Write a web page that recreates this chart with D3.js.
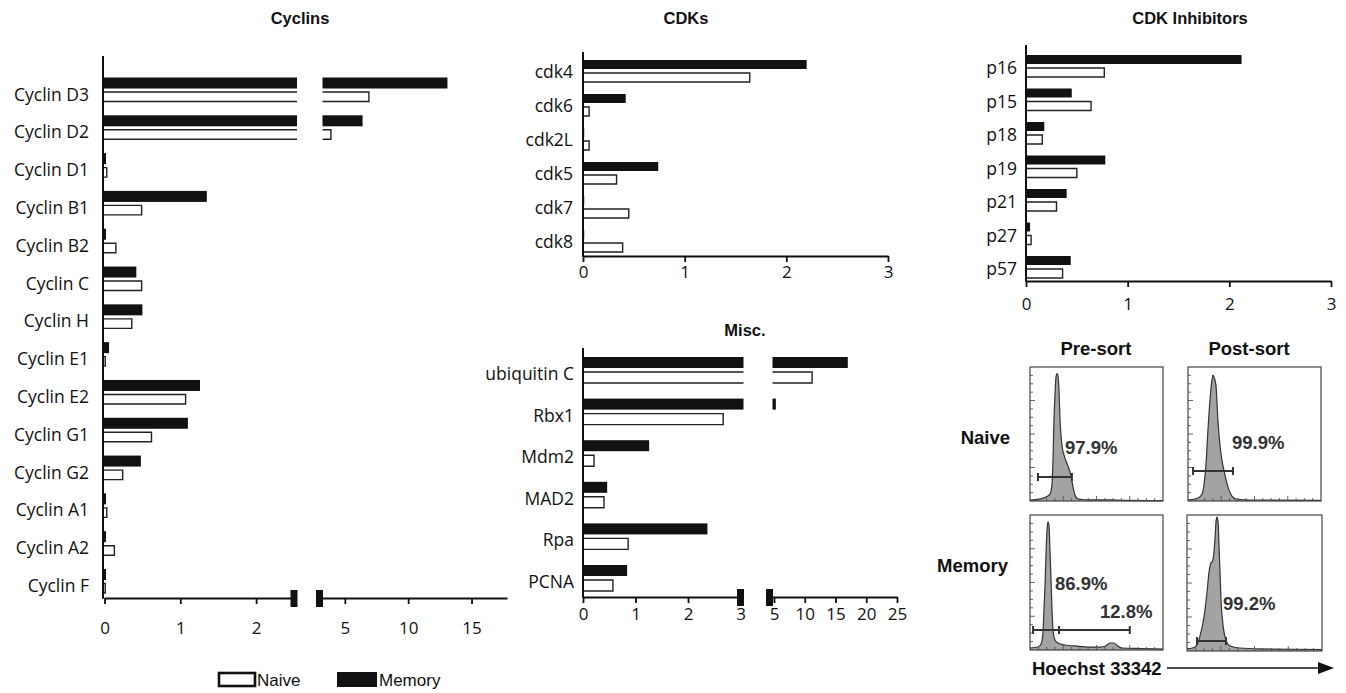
<!DOCTYPE html>
<html><head><meta charset="utf-8">
<script src="https://cdn.jsdelivr.net/npm/d3@7"></script>
<style>body{margin:0;background:#fff}svg{display:block}</style>
</head><body>
<svg id="c" width="1346" height="693"></svg>
<script>
// ---------------- DATA ----------------
const cyclinCats   = ["Cyclin D3","Cyclin D2","Cyclin D1","Cyclin B1","Cyclin B2","Cyclin C","Cyclin H","Cyclin E1","Cyclin E2","Cyclin G1","Cyclin G2","Cyclin A1","Cyclin A2","Cyclin F"];
const cyclinNaive  = [6.9, 3.9, 0.03, 0.49, 0.15, 0.49, 0.36, 0.01, 1.07, 0.62, 0.24, 0.03, 0.13, 0.01];
const cyclinMemory = [13.1, 6.4, 0.02, 1.35, 0.02, 0.42, 0.50, 0.06, 1.26, 1.10, 0.48, 0.02, 0.02, 0.02];
const cyclinTicksL = [0, 1, 2];
const cyclinTicksR = [5, 10, 15];

const cdkCats   = ["cdk4","cdk6","cdk2L","cdk5","cdk7","cdk8"];
const cdkNaive  = [1.64, 0.06, 0.06, 0.33, 0.45, 0.39];
const cdkMemory = [2.20, 0.42, 0.01, 0.74, 0.01, 0.01];
const cdkTicks  = [0, 1, 2, 3];

const inhCats   = ["p16","p15","p18","p19","p21","p27","p57"];
const inhNaive  = [0.77, 0.64, 0.16, 0.50, 0.30, 0.05, 0.36];
const inhMemory = [2.12, 0.45, 0.18, 0.78, 0.40, 0.04, 0.44];
const inhTicks  = [0, 1, 2, 3];

const miscCats   = ["ubiquitin C","Rbx1","Mdm2","MAD2","Rpa","PCNA"];
const miscNaive  = [11.2, 2.67, 0.21, 0.40, 0.86, 0.57];
const miscMemory = [17.0, 5.3, 1.26, 0.46, 2.37, 0.84];
const miscTicksL = [0, 1, 2, 3];
const miscTicksR = [5, 10, 15, 20, 25];

const legendLabels = ["Naive", "Memory"];

// flow histograms: [channel %, count %]
const histNaivePre = [[0,0.7],[7.5,1.5],[12,3],[15,5],[16.5,12],[17.3,31],[18,60],[18.8,79],[19.5,92],[20.3,95],[21,93.5],[21.8,83],[22.6,60],[24,42],[26.3,32],[28.6,26],[30.8,19],[32.3,10.5],[33.8,4.5],[36,1.5],[45,0.8],[60,0.8],[71,0.5],[100,0.3]];
const histNaivePost = [[0,0.7],[7.5,2.2],[10.5,5],[12,12],[13.5,27],[15,53],[16.5,75],[18,90],[18.8,94],[19.5,92.5],[21,86.5],[22.5,60],[24,42],[25.5,30.5],[27.8,19.5],[30,10.5],[33,3.7],[36,1.5],[46.6,0.7],[100,0.4]];
const histMemoryPre = [[0,1.5],[6,2.2],[8.3,4.4],[9.8,13.3],[10.5,30],[11.3,48],[12,70],[12.8,89],[13.5,95],[14.3,92],[15,74],[15.8,52],[16.5,31],[17.3,15],[18.8,7.4],[21,5.2],[26.3,3.7],[33.8,3],[45,2.2],[52.6,2.2],[57,3],[60,5.2],[63,5.2],[66,3],[69,1.5],[83,1.1],[100,0.7]];
const histMemoryPost = [[0,1.5],[6,3],[8,6],[9.6,11],[11.9,21],[13.3,30],[14.8,43],[16.3,58],[17.8,65],[18.5,65.5],[19.2,67],[20.7,82],[21.5,95],[22.2,98.5],[23,95],[23.7,78],[24.4,59.5],[25.2,37.5],[26.7,19],[28.9,8],[31.9,3.7],[39,2.2],[54,1.5],[100,1.1]];
const gatesNaivePre   = [{from:6, to:31.5, level:18, label:"97.9%"}];
const gatesNaivePost  = [{from:3.8, to:33.8, level:22.4, label:"99.9%"}];
const gatesMemoryPre  = [{from:2.3, to:21.8, level:14.8, label:"86.9%"},{from:21.8, to:75, level:14.8, label:"12.8%"}];
const gatesMemoryPost = [{from:7.4, to:28.9, level:7.4, label:"99.2%"}];

// ---------------- DRAW ----------------
const svg = d3.select("#c");
const LBL = "'Open Sans', 'Noto Sans', sans-serif";
const HEL = "'Liberation Sans', Arial, Helvetica, sans-serif";
const INK = "#111";

function brokenX(dl, rl, dr, rr){
  const l = d3.scaleLinear().domain(dl).range(rl);
  const r = dr ? d3.scaleLinear().domain(dr).range(rr) : null;
  return {l, r, brk: dl[1]};
}

function bar(g, sc, x0, v, top, bot, memory){
  const pieces = [];
  if (!sc.r || v <= sc.brk){
    pieces.push({a:x0, b:sc.l(v), openL:false, openR:false});
  } else {
    pieces.push({a:x0, b:sc.l(sc.brk)+3, openL:false, openR:true});
    pieces.push({a:sc.r(sc.r.domain()[0])+3, b:sc.r(v), openL:true, openR:false});
  }
  pieces.forEach(p=>{
    if (memory){
      g.append("rect").attr("x",p.a).attr("y",top).attr("width",Math.max(1.2,p.b-p.a)).attr("height",bot-top).attr("fill",INK);
    } else {
      g.append("rect").attr("x",p.a).attr("y",top).attr("width",Math.max(0.5,p.b-p.a)).attr("height",bot-top).attr("fill","#fff");
      let d;
      if (p.openR) d = `M${p.b},${top}H${p.a}V${bot}H${p.b}`;
      else if (p.openL) d = `M${p.a},${top}H${p.b}V${bot}H${p.a}`;
      else d = `M${p.a},${top}H${p.b}V${bot}H${p.a}Z`;
      g.append("path").attr("d",d).attr("fill","none").attr("stroke","#222").attr("stroke-width",1.4);
    }
  });
}

function panel(o){
  const g = svg.append("g");
  const y = d3.scalePoint().domain(o.cats).range(o.yRange);
  o.cats.forEach((c,i)=>{
    const cy = y(c);
    bar(g, o.x, o.axisX, o.memory[i], cy+o.mem[0], cy+o.mem[1], true);
    bar(g, o.x, o.axisX, o.naive[i], cy+o.nai[0], cy+o.nai[1], false);
    g.append("text").attr("x",o.labelX).attr("y",cy+o.labelDy)
      .attr("text-anchor","end").attr("dominant-baseline","central")
      .attr("font-family",LBL).attr("font-size",o.fs||17.5).attr("fill",INK).text(c);
  });
  g.append("line").attr("x1",o.axisX).attr("x2",o.axisX).attr("y1",o.yTop).attr("y2",o.axisY+0.8)
    .attr("stroke",INK).attr("stroke-width",2);
  const segs = [[o.x.l, o.ticksL]];
  if (o.x.r) segs.push([o.x.r, o.ticksR]);
  segs.forEach(([s,t])=>{
    const ax = d3.axisBottom(s).tickValues(t).tickFormat(d3.format("d")).tickSize(6).tickSizeOuter(0).tickPadding(o.tickPad);
    const ag = g.append("g").attr("transform",`translate(0,${o.axisY})`).call(ax);
    ag.select(".domain").attr("stroke",INK).attr("stroke-width",1.8);
    ag.selectAll(".tick line").attr("stroke",INK).attr("stroke-width",1.8);
    ag.selectAll(".tick text").attr("font-family",LBL).attr("font-size",17).attr("fill",INK);
  });
  if (o.x.r){
    [o.x.l(o.x.brk), o.x.r(o.x.r.domain()[0])].forEach(bx=>{
      g.append("rect").attr("x",bx-3.5).attr("y",o.axisY-8).attr("width",7).attr("height",17).attr("fill",INK);
    });
  }
  if (o.title){
    g.append("text").attr("x",o.title[1]).attr("y",o.title[2]).attr("text-anchor","middle")
      .attr("dominant-baseline","central").attr("font-family",HEL).attr("font-weight","bold")
      .attr("font-size",16.5).attr("fill",INK).text(o.title[0]);
  }
}

panel({cats:cyclinCats, naive:cyclinNaive, memory:cyclinMemory,
  x: brokenX([0,2.5],[104.5,294],[3,17.8],[319.5,507]),
  ticksL:cyclinTicksL, ticksR:cyclinTicksR, yRange:[89.5,581], mem:[-12,-1], nai:[2.5,12],
  axisX:103, axisY:598, yTop:56, labelX:89, labelDy:4, tickPad:18, title:["Cyclins",300,18]});

panel({cats:cdkCats, naive:cdkNaive, memory:cdkMemory,
  x: brokenX([0,3],[583,888]),
  ticksL:cdkTicks, yRange:[71,241], mem:[-11,-2], nai:[2,11],
  axisX:583, axisY:256, yTop:52, labelX:573, labelDy:0, tickPad:4, title:["CDKs",686,18]});

panel({cats:inhCats, naive:inhNaive, memory:inhMemory,
  x: brokenX([0,3],[1026,1331]),
  ticksL:inhTicks, yRange:[66,267], mem:[-11,-2], nai:[2,11],
  axisX:1026, axisY:281, yTop:45, labelX:1017, labelDy:1, tickPad:11, title:["CDK Inhibitors",1190,18]});

panel({cats:miscCats, naive:miscNaive, memory:miscMemory,
  x: brokenX([0,3],[583,740.5],[4.27,25],[769.5,897]),
  ticksL:miscTicksL, ticksR:miscTicksR, yRange:[370,578], mem:[-13,-2], nai:[2,13],
  axisX:583, axisY:597, yTop:348, labelX:574, labelDy:3, tickPad:5, title:["Misc.",745,330]});

// legend
const lg = svg.append("g");
lg.append("rect").attr("x",219).attr("y",673).attr("width",36).attr("height",13).attr("fill","#fff").attr("stroke",INK).attr("stroke-width",2.6);
lg.append("rect").attr("x",337).attr("y",672).attr("width",40).attr("height",15).attr("fill",INK);
lg.append("text").attr("x",257).attr("y",680).attr("dominant-baseline","central").attr("font-family",HEL).attr("font-size",17).attr("fill",INK).text(legendLabels[0]);
lg.append("text").attr("x",379).attr("y",680).attr("dominant-baseline","central").attr("font-family",HEL).attr("font-size",17).attr("fill",INK).text(legendLabels[1]);

// flow cytometry
function flow(x0, y0, w, h, data, gates){
  const g = svg.append("g");
  const sx = d3.scaleLinear().domain([0,100]).range([x0, x0+w]);
  const sy = d3.scaleLinear().domain([0,100]).range([y0+h, y0]);
  const area = d3.area().x(d=>sx(d[0])).y0(y0+h).y1(d=>sy(d[1])).curve(d3.curveMonotoneX);
  const line = d3.line().x(d=>sx(d[0])).y(d=>sy(d[1])).curve(d3.curveMonotoneX);
  g.append("path").datum(data).attr("d",area).attr("fill","#a3a3a3");
  g.append("path").datum(data).attr("d",line).attr("fill","none").attr("stroke","#333").attr("stroke-width",1.2);
  for (let i=1;i<16;i++){
    const tx = x0 + i*w/16, ty = y0 + h - i*h/16, L = (i%4===0)?5:3;
    g.append("line").attr("x1",tx).attr("x2",tx).attr("y1",y0+h).attr("y2",y0+h-L).attr("stroke","#555").attr("stroke-width",0.9);
    g.append("line").attr("x1",x0).attr("x2",x0+L).attr("y1",ty).attr("y2",ty).attr("stroke","#555").attr("stroke-width",0.9);
  }
  g.append("rect").attr("x",x0).attr("y",y0).attr("width",w).attr("height",h).attr("fill","none").attr("stroke","#444").attr("stroke-width",1.2);
  gates.forEach(gt=>{
    const gy = sy(gt.level), a = sx(gt.from), b = sx(gt.to);
    g.append("path").attr("d",`M${a},${gy}H${b}M${a},${gy-4}V${gy+4}M${b},${gy-4}V${gy+4}`)
      .attr("stroke","#333").attr("stroke-width",2).attr("fill","none");
  });
  return {g, sx, sy};
}
function pct(x, y, t){
  svg.append("text").attr("x",x).attr("y",y).attr("dominant-baseline","central").attr("font-family",HEL)
    .attr("font-weight","bold").attr("font-size",18.5).attr("fill","#333").text(t);
}
flow(1030, 367, 133, 134, histNaivePre, gatesNaivePre);
flow(1188, 367, 133, 134, histNaivePost, gatesNaivePost);
flow(1030, 515, 133, 135, histMemoryPre, gatesMemoryPre);
flow(1187, 515, 135, 136, histMemoryPost, gatesMemoryPost);
pct(1065, 447, gatesNaivePre[0].label);
pct(1232, 442, gatesNaivePost[0].label);
pct(1055, 583, gatesMemoryPre[0].label);
pct(1100, 611, gatesMemoryPre[1].label);
pct(1223, 603, gatesMemoryPost[0].label);

function boldText(x, y, t, anchor){
  svg.append("text").attr("x",x).attr("y",y).attr("text-anchor",anchor).attr("dominant-baseline","central")
    .attr("font-family",HEL).attr("font-weight","bold").attr("font-size",18.5).attr("fill",INK).text(t);
}
boldText(1096, 348, "Pre-sort", "middle");
boldText(1249, 348, "Post-sort", "middle");
boldText(1010, 437, "Naive", "end");
boldText(1008, 565, "Memory", "end");
boldText(1032, 668, "Hoechst 33342", "start");
svg.append("line").attr("x1",1167).attr("x2",1320).attr("y1",668).attr("y2",668).attr("stroke",INK).attr("stroke-width",1.6);
svg.append("path").attr("d","M1318,662L1334,668L1318,674Z").attr("fill",INK);
</script>
</body></html>
